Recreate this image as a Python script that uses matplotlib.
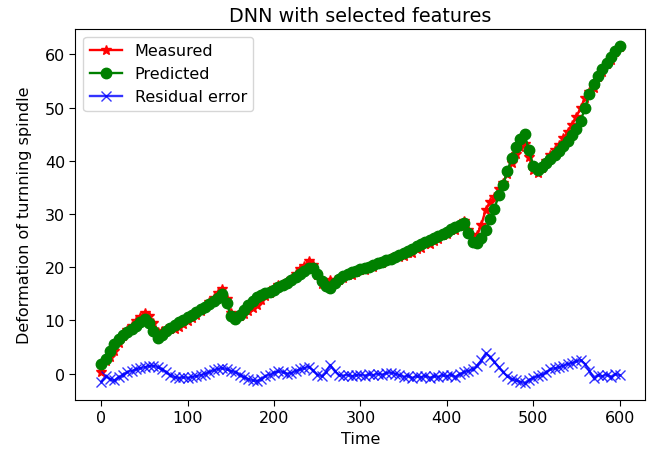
import matplotlib
matplotlib.use("Agg")
import matplotlib.pyplot as plt

time = list(range(0, 601, 5))

predicted = [
    1.8, 2.8, 4.2, 5.5, 6.5, 7.3, 7.9, 8.4, 9.0, 9.7,
    10.2, 9.5, 8.0, 6.7, 7.2, 8.0, 8.6, 9.1, 9.6, 10.1,
    10.6, 11.1, 11.6, 12.1, 12.6, 13.1, 13.6, 14.2, 14.9, 13.2,
    10.8, 10.3, 11.0, 11.9, 12.8, 13.6, 14.3, 14.8, 15.1, 15.4,
    15.8, 16.2, 16.6, 17.0, 17.6, 18.2, 18.8, 19.3, 19.8, 19.9,
    18.8, 17.4, 16.4, 16.0, 17.0, 17.8, 18.3, 18.7, 19.0, 19.3,
    19.6, 19.9, 20.1, 20.4, 20.7, 21.0, 21.3, 21.6, 21.9, 22.3,
    22.7, 23.1, 23.5, 23.9, 24.3, 24.7, 25.1, 25.5, 25.9, 26.3,
    26.7, 27.1, 27.5, 27.9, 28.3, 26.5, 24.8, 24.5, 25.5, 27.0,
    29.0, 31.0, 33.5, 35.5, 38.0, 40.5, 42.5, 44.0, 45.0, 42.0,
    39.0, 38.2, 38.8, 39.6, 40.3, 41.0, 41.8, 42.7, 43.7, 44.8,
    46.0, 47.5, 50.0, 52.5, 54.5, 56.0, 57.2, 58.4, 59.5, 60.6,
    61.6,
]

measured = [
    0.3, 2.3, 3.2, 4.2, 5.8, 7.1, 8.2, 8.9, 9.8, 10.7,
    11.4, 10.9, 9.5, 7.9, 8.0, 8.3, 8.3, 8.4, 8.8, 9.4,
    9.8, 10.5, 11.1, 11.8, 12.6, 13.4, 14.2, 15.1, 15.9, 14.0,
    11.3, 10.6, 10.8, 11.2, 11.8, 12.3, 12.9, 13.8, 14.6, 15.2,
    16.0, 16.6, 16.9, 17.0, 17.7, 18.7, 19.6, 20.3, 21.1, 20.5,
    18.6, 16.9, 16.7, 17.6, 17.5, 17.5, 17.9, 18.5, 18.5, 19.0,
    19.4, 19.5, 20.0, 20.1, 20.7, 20.8, 21.4, 21.8, 21.9, 22.0,
    22.1, 22.7, 22.7, 23.4, 23.6, 24.3, 24.3, 25.0, 25.3, 26.0,
    26.2, 26.9, 26.9, 27.8, 28.6, 27.0, 25.6, 26.0, 28.0, 30.8,
    32.2, 33.2, 34.7, 35.8, 37.5, 39.5, 41.2, 42.5, 43.2, 40.8,
    38.2, 37.7, 38.6, 39.9, 41.1, 42.0, 43.0, 44.2, 45.5, 46.8,
    48.3, 50.0, 51.8, 53.0, 53.7, 55.7, 56.7, 58.2, 58.9, 60.5,
    61.3,
]

residual = [
    -1.5, -0.5, -1.0, -1.3, -0.7, -0.2, 0.3, 0.5, 0.8, 1.0,
    1.2, 1.4, 1.5, 1.2, 0.8, 0.3, -0.3, -0.7, -0.8, -0.7,
    -0.8, -0.6, -0.5, -0.3, 0.0, 0.3, 0.6, 0.9, 1.0, 0.8,
    0.5, 0.3, -0.2, -0.7, -1.0, -1.3, -1.4, -1.0, -0.5, -0.2,
    0.2, 0.4, 0.3, 0.0, 0.1, 0.5, 0.8, 1.0, 1.3, 0.6,
    -0.2, -0.5, 0.3, 1.6, 0.5, -0.3, -0.4, -0.2, -0.5, -0.3,
    -0.2, -0.4, -0.1, -0.3, 0.0, -0.2, 0.1, 0.2, 0.0, -0.3,
    -0.6, -0.4, -0.8, -0.5, -0.7, -0.4, -0.8, -0.5, -0.6, -0.3,
    -0.5, -0.2, -0.6, -0.1, 0.3, 0.5, 0.8, 1.5, 2.5, 3.8,
    3.2, 2.2, 1.2, 0.3, -0.5, -1.0, -1.3, -1.5, -1.8, -1.2,
    -0.8, -0.5, -0.2, 0.3, 0.8, 1.0, 1.2, 1.5, 1.8, 2.0,
    2.3, 2.5, 1.8, 0.5, -0.8, -0.3, -0.5, -0.2, -0.6, -0.1,
    -0.3,
]

# ── figure ───────────────────────────────────────────────────────────────────
FS = 11.5
fig = plt.figure(figsize=(6.54, 4.56), dpi=100)
ax = fig.add_axes([0.1154, 0.1206, 0.8716, 0.8136])

ax.plot(time, measured, color="red", marker="*", markersize=7.5, linewidth=1.7, label="Measured")
ax.plot(time, predicted, color="green", marker="o", markersize=7.5, linewidth=1.7, label="Predicted")
ax.plot(time, residual, color="blue", marker="x", markersize=7.5, linewidth=1.7, alpha=0.8,
        label="Residual error")

ax.set_title("DNN with selected features", fontsize=13.8)
ax.set_xlabel("Time", fontsize=FS)
ax.set_ylabel("Deformation of turnning spindle", fontsize=FS, labelpad=9)
ax.set_xticks([0, 100, 200, 300, 400, 500, 600])
ax.set_yticks([0, 10, 20, 30, 40, 50, 60])
ax.tick_params(labelsize=FS, length=4)
ax.legend(loc="upper left", fontsize=FS)

fig.savefig("out.png", dpi=100)
